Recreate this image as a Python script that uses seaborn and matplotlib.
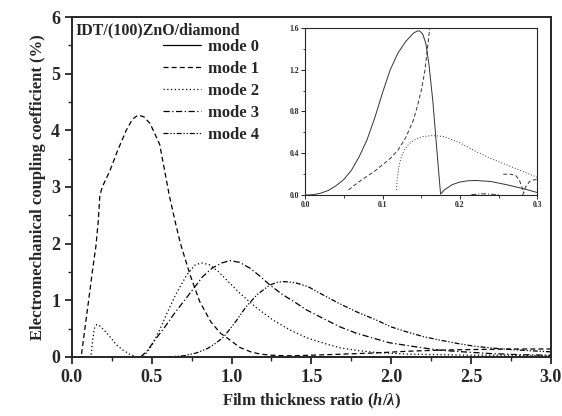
import numpy as np
import pandas as pd
import matplotlib
matplotlib.use('Agg')
import matplotlib.pyplot as plt
from matplotlib.lines import Line2D
from matplotlib.ticker import MultipleLocator, FormatStrFormatter
import seaborn as sns

# ---- main plot data ----
m1_x = [0.06, 0.10, 0.13, 0.15, 0.165, 0.175, 0.19, 0.21, 0.24, 0.28, 0.34, 0.38, 0.415,
        0.45, 0.49, 0.55, 0.58, 0.61, 0.65, 0.68, 0.74, 0.80, 0.87, 0.93, 0.99, 1.05,
        1.12, 1.18, 1.25, 1.35, 1.5, 1.7, 1.9, 2.1, 2.3, 2.5, 2.75, 3.0]
m1_y = [0.05, 0.9, 1.55, 1.95, 2.4, 2.85, 3.0, 3.12, 3.3, 3.6, 4.0, 4.2, 4.27,
        4.24, 4.12, 3.75, 3.3, 2.85, 2.35, 2.0, 1.45, 0.98, 0.62, 0.42, 0.30, 0.17,
        0.09, 0.05, 0.03, 0.02, 0.03, 0.05, 0.07, 0.10, 0.12, 0.13, 0.14, 0.14]

m2_x = [0.12, 0.13, 0.14, 0.155, 0.17, 0.2, 0.24, 0.28, 0.32, 0.36, 0.405, 0.45, 0.5,
        0.55, 0.6, 0.65, 0.72, 0.77, 0.81, 0.86, 0.92, 0.99, 1.05, 1.15, 1.26, 1.37,
        1.47, 1.58, 1.68, 1.8, 1.9, 2.1, 2.3, 2.5, 2.75, 3.0]
m2_y = [0.04, 0.3, 0.5, 0.57, 0.56, 0.48, 0.35, 0.21, 0.12, 0.05, 0.0, 0.01, 0.2,
        0.48, 0.8, 1.1, 1.45, 1.62, 1.66, 1.63, 1.5, 1.3, 1.13, 0.88, 0.65, 0.47,
        0.34, 0.24, 0.16, 0.11, 0.08, 0.05, 0.04, 0.03, 0.03, 0.02]

m3_x = [0.43, 0.47, 0.52, 0.58, 0.64, 0.70, 0.76, 0.82, 0.88, 0.94, 0.99, 1.05, 1.12,
        1.18, 1.24, 1.32, 1.40, 1.47, 1.58, 1.68, 1.78, 1.89, 1.99, 2.15, 2.30, 2.45,
        2.62, 2.8, 3.0]
m3_y = [0.0, 0.1, 0.3, 0.52, 0.76, 0.98, 1.2, 1.42, 1.57, 1.66, 1.70, 1.67, 1.56,
        1.42, 1.27, 1.1, 0.96, 0.83, 0.67, 0.53, 0.42, 0.33, 0.25, 0.18, 0.12, 0.09,
        0.06, 0.04, 0.03]

m4_x = [0.6, 0.7, 0.78, 0.85, 0.9, 0.95, 1.02, 1.09, 1.16, 1.24, 1.29, 1.33, 1.4,
        1.48, 1.57, 1.67, 1.78, 1.9, 2.0, 2.1, 2.2, 2.3, 2.41, 2.52, 2.62, 2.75, 2.87, 3.0]
m4_y = [0.0, 0.02, 0.07, 0.15, 0.24, 0.35, 0.6, 0.88, 1.1, 1.27, 1.32, 1.33, 1.31,
        1.24, 1.1, 0.95, 0.8, 0.66, 0.53, 0.44, 0.36, 0.3, 0.24, 0.19, 0.16, 0.13, 0.11, 0.09]

# ---- inset data ----
i0_x = [0.0, 0.01, 0.02, 0.03, 0.04, 0.05, 0.06, 0.07, 0.08, 0.09, 0.10, 0.11, 0.12,
        0.13, 0.14, 0.145, 0.148, 0.152, 0.156, 0.16, 0.165, 0.17, 0.175,
        0.18, 0.19, 0.20, 0.21, 0.22, 0.24, 0.26, 0.28, 0.30]
i0_y = [0.0, 0.004, 0.018, 0.045, 0.09, 0.15, 0.24, 0.37, 0.53, 0.74, 0.98, 1.2, 1.36,
        1.47, 1.55, 1.57, 1.57, 1.54, 1.45, 1.25, 0.9, 0.45, 0.01,
        0.05, 0.1, 0.125, 0.137, 0.14, 0.13, 0.1, 0.065, 0.025]

i1_x = [0.056, 0.07, 0.08, 0.09, 0.10, 0.11, 0.12, 0.13, 0.14, 0.145, 0.15, 0.155, 0.158, 0.161]
i1_y = [0.05, 0.13, 0.18, 0.23, 0.29, 0.35, 0.43, 0.55, 0.72, 0.85, 1.0, 1.2, 1.4, 1.6]
i1b_x = [0.256, 0.265, 0.272, 0.277, 0.28, 0.283]
i1b_y = [0.2, 0.2, 0.19, 0.14, 0.08, 0.02]
i1c_x = [0.281, 0.285, 0.29, 0.295, 0.3]
i1c_y = [0.0, 0.08, 0.13, 0.145, 0.15]

i2_x = [0.118, 0.119, 0.121, 0.124, 0.128, 0.134, 0.142, 0.152, 0.165, 0.18, 0.2,
        0.22, 0.24, 0.26, 0.28, 0.3]
i2_y = [0.05, 0.15, 0.27, 0.36, 0.43, 0.49, 0.53, 0.56, 0.57, 0.56, 0.5,
        0.42, 0.35, 0.29, 0.23, 0.17]

i3_x = [0.215, 0.23, 0.25]
i3_y = [0.005, 0.012, 0.005]

labels = ['mode 0', 'mode 1', 'mode 2', 'mode 3', 'mode 4']
styles = ['-', (0, (4, 2.5)), (0, (1, 2)), (0, (5, 2, 1, 2)), (0, (4, 1.5, 1, 1.5, 1, 1.5))]

sns.set_style('ticks')
plt.rcParams['font.family'] = ['Liberation Serif', 'DejaVu Serif']
plt.rcParams['font.weight'] = 'bold'
plt.rcParams['mathtext.fontset'] = 'custom'
plt.rcParams['mathtext.it'] = 'Liberation Serif:italic:bold'
plt.rcParams['mathtext.rm'] = 'Liberation Serif:bold'

fig = plt.figure(figsize=(5.62, 4.16), dpi=100)
ax = fig.add_axes([0.128, 0.142, 0.852, 0.817])

lw = 0.9
main = [(m1_x, m1_y, 1), (m2_x, m2_y, 2), (m3_x, m3_y, 3), (m4_x, m4_y, 4)]
for xs, ys, k in main:
    df = pd.DataFrame({'h': xs, 'k2': ys})
    sns.lineplot(data=df, x='h', y='k2', ax=ax, color='black', lw=lw,
                 linestyle=styles[k], sort=False, estimator=None)

ax.set_xlim(0, 3.0)
ax.set_ylim(0, 6)
ax.xaxis.set_major_locator(MultipleLocator(0.5))
ax.xaxis.set_minor_locator(MultipleLocator(0.25))
ax.yaxis.set_major_locator(MultipleLocator(1))
ax.yaxis.set_minor_locator(MultipleLocator(0.5))
ax.tick_params(which='major', direction='out', length=5, width=1.3, labelsize=13)
ax.tick_params(which='minor', direction='out', length=3, width=1.0)
for lab in ax.get_xticklabels() + ax.get_yticklabels():
    lab.set_fontweight('bold')
for sp in ax.spines.values():
    sp.set_linewidth(1.4)
    sp.set_visible(True)
ax.set_xlabel(r'Film thickness ratio ($h/\lambda$)', fontsize=12, fontweight='bold')
ax.set_ylabel('Electromechanical coupling coefficient (%)', fontsize=12, fontweight='bold')

ax.text(0.008, 0.985, 'IDT/(100)ZnO/diamond', transform=ax.transAxes,
        fontsize=11.5, fontweight='bold', va='top', ha='left')
handles = [Line2D([], [], color='black', lw=lw, linestyle=s) for s in styles]
ax.legend(handles, labels, loc='upper left', bbox_to_anchor=(0.19, 0.935),
          frameon=False, handlelength=2.3, handletextpad=0.4,
          labelspacing=0.36, borderpad=0, borderaxespad=0,
          prop={'weight': 'bold', 'size': 12})

# ---- inset ----
axin = fig.add_axes([0.543, 0.531, 0.413, 0.402])
inset = [(i0_x, i0_y, 0), (i1_x, i1_y, 1), (i1b_x, i1b_y, 1), (i1c_x, i1c_y, 1),
         (i2_x, i2_y, 2), (i3_x, i3_y, 3)]
for xs, ys, k in inset:
    df = pd.DataFrame({'h': xs, 'k2': ys})
    sns.lineplot(data=df, x='h', y='k2', ax=axin, color='#333333', lw=0.7,
                 linestyle=styles[k], sort=False, estimator=None)
axin.set_xlim(0, 0.3)
axin.set_ylim(0, 1.6)
axin.xaxis.set_major_locator(MultipleLocator(0.1))
axin.xaxis.set_minor_locator(MultipleLocator(0.05))
axin.yaxis.set_major_locator(MultipleLocator(0.4))
axin.yaxis.set_minor_locator(MultipleLocator(0.2))
axin.xaxis.set_major_formatter(FormatStrFormatter('%.1f'))
axin.yaxis.set_major_formatter(FormatStrFormatter('%.1f'))
axin.tick_params(which='major', direction='out', length=3, width=0.7, labelsize=5.5, pad=1.5)
axin.tick_params(which='minor', direction='out', length=1.8, width=0.6)
for lab in axin.get_xticklabels() + axin.get_yticklabels():
    lab.set_fontweight('bold')
for sp in axin.spines.values():
    sp.set_linewidth(0.8)
    sp.set_visible(True)
axin.set_xlabel('')
axin.set_ylabel('')

fig.savefig('out.png', dpi=100)
